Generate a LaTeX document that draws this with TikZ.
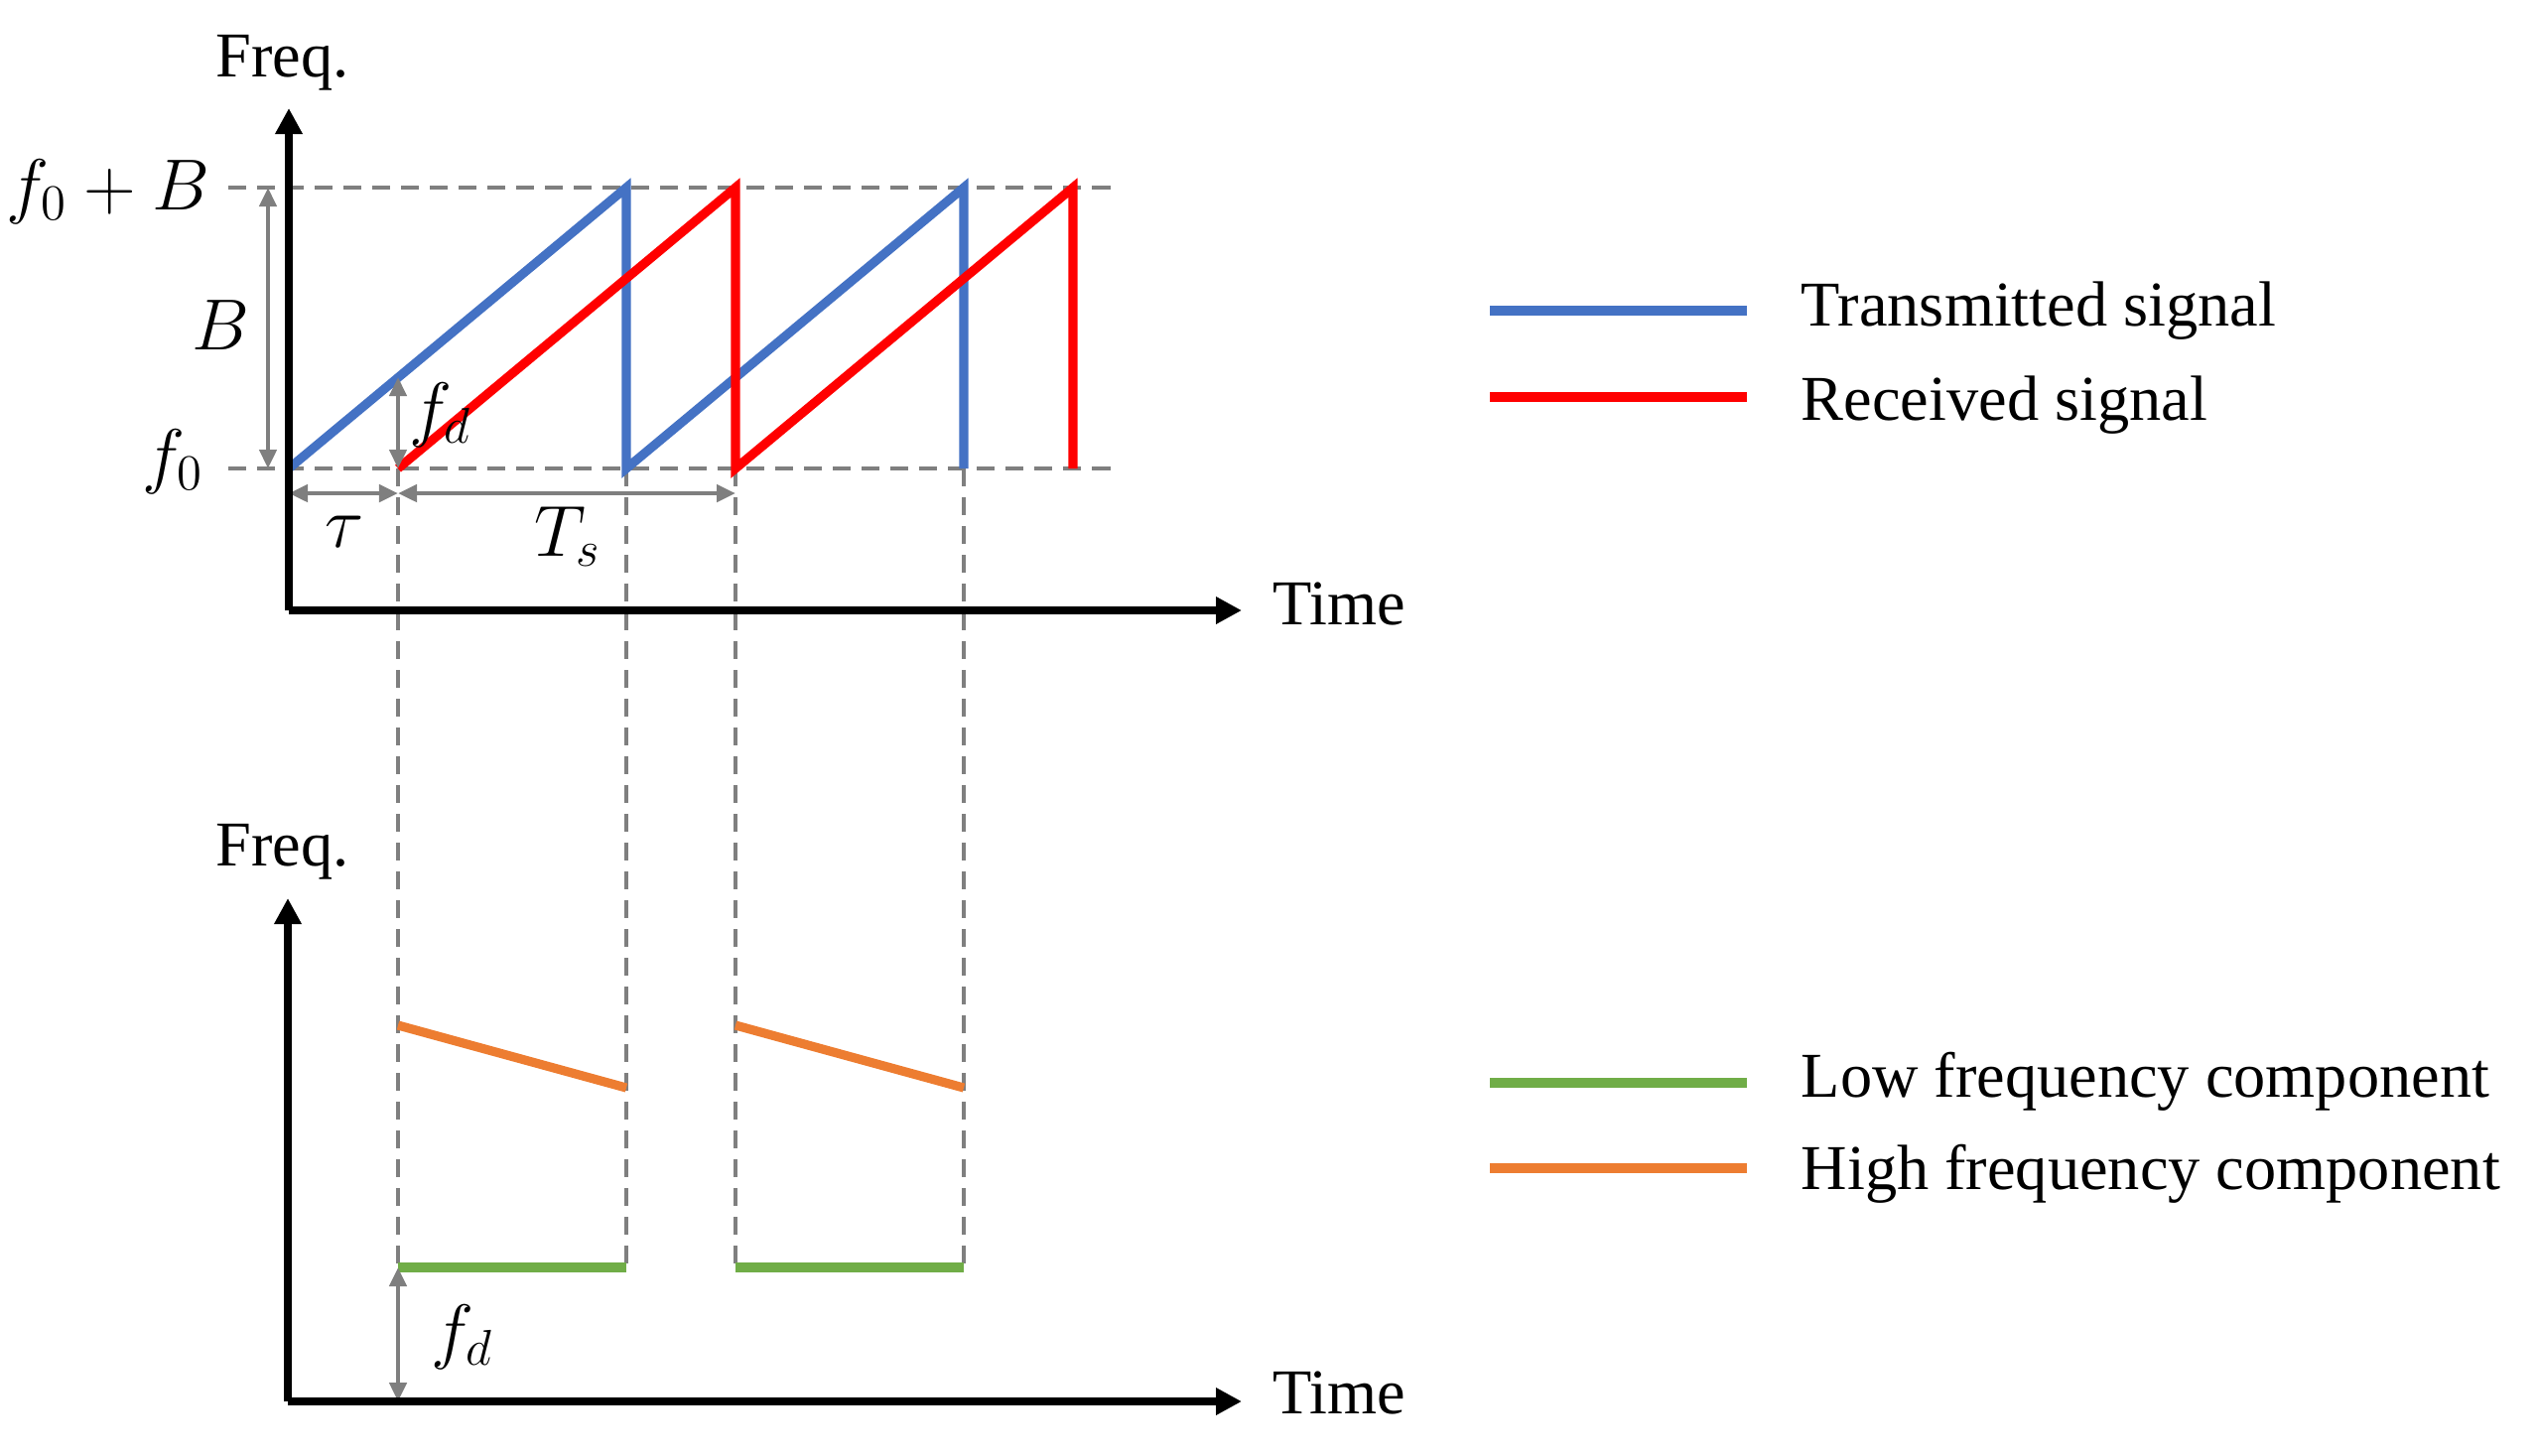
\documentclass[tikz,border=0pt]{standalone}
\usepackage{fontspec}
\setmainfont{Liberation Serif}
\usetikzlibrary{arrows.meta}
\definecolor{txblue}{HTML}{4472C4}
\definecolor{rxred}{HTML}{FF0000}
\definecolor{lowgreen}{HTML}{70AD47}
\definecolor{highorange}{HTML}{ED7D31}
\definecolor{guidegray}{HTML}{7F7F7F}
\begin{document}
\begin{tikzpicture}[x=0.01cm,y=-0.01cm,
  axisline/.style={line width=2.4pt,-{Triangle[length=0.26cm,width=0.26cm]}},
  guide/.style={guidegray,line width=1.4pt,dash pattern=on 0.18cm off 0.11cm},
  dimarrow/.style={guidegray,line width=1.3pt,{Triangle[length=0.19cm,width=0.17cm]}-{Triangle[length=0.19cm,width=0.17cm]}},
  sig/.style={line width=2.6pt},
  lbl/.style={inner sep=0pt,font=\fontsize{18.3}{22}\selectfont},
  mlbl/.style={inner sep=0pt,font=\fontsize{21.5}{26}\selectfont}]
\useasboundingbox (0,0) rectangle (2555,1466);
% ---- coordinates, top chart
\coordinate (O1) at (291,615);
\coordinate (Y1) at (291,109);
\coordinate (X1) at (1251,615);
\coordinate (hBl) at (230,189);
\coordinate (hBr) at (1127,189);
\coordinate (h0l) at (230,472);
\coordinate (h0r) at (1127,472);
\coordinate (b0) at (291,472);
\coordinate (b1t) at (631,189);
\coordinate (b1b) at (631,472);
\coordinate (b2t) at (971,189);
\coordinate (b2b) at (971,472);
\coordinate (r0) at (401,472);
\coordinate (r1t) at (741,189);
\coordinate (r1b) at (741,472);
\coordinate (r2t) at (1081,189);
\coordinate (r2b) at (1081,472);
\coordinate (Btop) at (270,189);
\coordinate (Bbot) at (270,472);
\coordinate (fdtop) at (401,380);
\coordinate (taul) at (291,497);
\coordinate (taur) at (401,497);
\coordinate (tsr) at (741,497);
% ---- coordinates, bottom chart
\coordinate (O2) at (290,1412);
\coordinate (Y2) at (290,905);
\coordinate (X2) at (1251,1412);
\coordinate (g1l) at (401,1277);
\coordinate (g1r) at (631,1277);
\coordinate (g2l) at (741,1277);
\coordinate (g2r) at (971,1277);
\coordinate (o1l) at (401,1033);
\coordinate (o1r) at (631,1096);
\coordinate (o2l) at (741,1033);
\coordinate (o2r) at (971,1096);
\coordinate (fdbot) at (401,1412);
% ---- guides
\draw[guide] (hBl) -- (hBr);
\draw[guide] (h0l) -- (h0r);
\draw[guide] (r0) -- (g1l);
\draw[guide] (b1b) -- (g1r);
\draw[guide] (r1b) -- (g2l);
\draw[guide] (b2b) -- (g2r);
% ---- signals
\draw[sig,txblue] (b0) -- (b1t) -- (b1b) -- (b2t) -- (b2b);
\draw[sig,rxred] (r0) -- (r1t) -- (r1b) -- (r2t) -- (r2b);
\draw[sig,highorange] (o1l) -- (o1r);
\draw[sig,highorange] (o2l) -- (o2r);
\draw[sig,lowgreen] (g1l) -- (g1r);
\draw[sig,lowgreen] (g2l) -- (g2r);
% ---- dimension arrows
\draw[dimarrow] (Bbot) -- (Btop);
\draw[dimarrow] (r0) -- (fdtop);
\draw[dimarrow] (taul) -- (taur);
\draw[dimarrow] (taur) -- (tsr);
\draw[dimarrow] (fdbot) -- (g1l);
% ---- axes
\draw[axisline] (O1) -- (Y1);
\draw[axisline] (O1) -- (X1);
\draw[axisline] (O2) -- (Y2);
\draw[axisline] (O2) -- (X2);
% ---- axis labels
\node[lbl,anchor=base west] (freq1) at (217,77) {Freq.};
\node[lbl,anchor=base west] (time1) at (1282,629) {Time};
\node[lbl,anchor=base west] (freq2) at (217,872) {Freq.};
\node[lbl,anchor=base west] (time2) at (1282,1424) {Time};
% ---- math labels
\node[mlbl,anchor=base east] (lf0B) at (212,211) {$f_0+B$};
\node[mlbl,anchor=base east] (lf0) at (206,483) {$f_0$};
\node[mlbl,anchor=base] (lB) at (222,352) {$B$};
\node[mlbl,anchor=base west] (lfd1) at (412,436) {$f_d$};
\node[mlbl,anchor=base] (ltau) at (347,551) {$\tau$};
\node[mlbl,anchor=base west] (lTs) at (538,560) {$T_s$};
\node[mlbl,anchor=base west] (lfd2) at (434,1365) {$f_d$};
% ---- legends
\coordinate (lg1l) at (1501,313); \coordinate (lg1r) at (1760,313);
\coordinate (lg2l) at (1501,400); \coordinate (lg2r) at (1760,400);
\coordinate (lg3l) at (1501,1091); \coordinate (lg3r) at (1760,1091);
\coordinate (lg4l) at (1501,1177); \coordinate (lg4r) at (1760,1177);
\draw[sig,txblue] (lg1l) -- (lg1r);
\draw[sig,rxred] (lg2l) -- (lg2r);
\draw[sig,lowgreen] (lg3l) -- (lg3r);
\draw[sig,highorange] (lg4l) -- (lg4r);
\node[lbl,anchor=base west] (tx) at (1814,328) {Transmitted signal};
\node[lbl,anchor=base west] (rx) at (1814,423) {Received signal};
\node[lbl,anchor=base west] (lowc) at (1814,1105) {Low frequency component};
\node[lbl,anchor=base west] (highc) at (1814,1198) {High frequency component};
\end{tikzpicture}
\end{document}
